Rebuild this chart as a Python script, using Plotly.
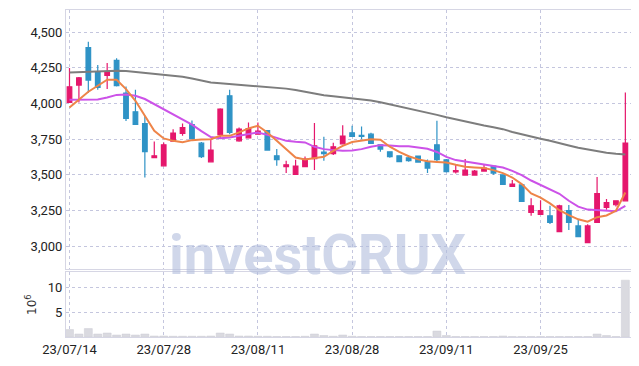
import plotly.graph_objects as go
from plotly.subplots import make_subplots

dates = [
    "2023-07-14", "2023-07-17", "2023-07-18", "2023-07-19", "2023-07-20", "2023-07-21",
    "2023-07-24", "2023-07-25", "2023-07-26", "2023-07-27", "2023-07-28", "2023-07-31",
    "2023-08-01", "2023-08-02", "2023-08-03", "2023-08-04", "2023-08-07", "2023-08-08",
    "2023-08-09", "2023-08-10", "2023-08-11", "2023-08-14", "2023-08-16", "2023-08-17",
    "2023-08-18", "2023-08-21", "2023-08-22", "2023-08-23", "2023-08-24", "2023-08-25",
    "2023-08-28", "2023-08-29", "2023-08-30", "2023-08-31", "2023-09-01", "2023-09-04",
    "2023-09-05", "2023-09-06", "2023-09-07", "2023-09-08", "2023-09-11", "2023-09-12",
    "2023-09-13", "2023-09-14", "2023-09-15", "2023-09-18", "2023-09-19", "2023-09-20",
    "2023-09-21", "2023-09-22", "2023-09-25", "2023-09-26", "2023-09-27", "2023-10-04",
    "2023-10-05", "2023-10-06", "2023-10-10", "2023-10-11", "2023-10-12", "2023-10-13",
]

open_ = [4007, 4129, 4391, 4217, 4196, 4302, 4073, 3942, 3858, 3621,
         3563, 3736, 3790, 3851, 3722, 3591, 3781, 4054, 3738, 3759,
         3785, 3809, 3633, 3558, 3502, 3558, 3614, 3659, 3649, 3717,
         3794, 3776, 3785, 3710, 3661, 3633, 3619, 3631, 3591, 3710,
         3605, 3521, 3498, 3498, 3526, 3561, 3500, 3418, 3430, 3236,
         3222, 3213, 3102, 3250, 3142, 3025, 3166, 3271, 3290, 3318]
high = [4248, 4185, 4433, 4269, 4283, 4316, 4119, 4096, 3914, 3734,
        3727, 3820, 3860, 3881, 3730, 3745, 3966, 4096, 3832, 3867,
        3867, 3813, 3680, 3598, 3605, 3628, 3863, 3766, 3724, 3848,
        3844, 3839, 3794, 3712, 3663, 3636, 3635, 3633, 3607, 3879,
        3610, 3575, 3610, 3533, 3568, 3565, 3502, 3463, 3433, 3336,
        3322, 3283, 3290, 3288, 3189, 3154, 3485, 3330, 3320, 4077]
low = [4005, 4007, 4073, 4096, 4101, 4119, 3877, 3849, 3481, 3618,
       3560, 3731, 3774, 3750, 3617, 3588, 3752, 3785, 3731, 3755,
       3783, 3668, 3563, 3512, 3500, 3556, 3533, 3598, 3638, 3712,
       3767, 3750, 3717, 3661, 3619, 3588, 3591, 3586, 3512, 3593,
       3516, 3509, 3495, 3496, 3524, 3500, 3430, 3416, 3310, 3213,
       3220, 3156, 3100, 3114, 3064, 3022, 3163, 3255, 3278, 3316]
close = [4117, 4180, 4164, 4112, 4222, 4124, 3895, 3853, 3663, 3633,
         3710, 3792, 3830, 3752, 3628, 3673, 3961, 3797, 3820, 3823,
         3806, 3673, 3607, 3570, 3561, 3610, 3703, 3649, 3696, 3771,
         3769, 3769, 3720, 3680, 3628, 3593, 3600, 3589, 3547, 3607,
         3523, 3530, 3533, 3526, 3547, 3512, 3432, 3435, 3313, 3283,
         3250, 3166, 3283, 3166, 3067, 3142, 3369, 3306, 3318, 3722]

ma5 = [3972, 4024, 4082, 4124, 4166, 4166, 4101, 4019, 3914, 3809,
       3755, 3738, 3729, 3743, 3748, 3750, 3773, 3773, 3797, 3825,
       3844, 3797, 3738, 3680, 3621, 3607, 3614, 3626, 3668, 3703,
       3730, 3740, 3750, 3746, 3697, 3660, 3630, 3608, 3595, 3590,
       3586, 3570, 3556, 3551, 3547, 3533, 3512, 3481, 3435, 3370,
       3340, 3300, 3252, 3218, 3188, 3172, 3203, 3215, 3248, 3376]
ma20 = [4026, 4026, 4026, 4028, 4042, 4060, 4063, 4054, 4031, 3996,
        3961, 3926, 3891, 3851, 3806, 3765, 3757, 3762, 3773, 3783,
        3797, 3780, 3757, 3738, 3731, 3727, 3696, 3680, 3673, 3668,
        3670, 3680, 3696, 3708, 3706, 3700, 3700, 3690, 3683, 3660,
        3626, 3603, 3593, 3584, 3575, 3565, 3551, 3528, 3498, 3460,
        3430, 3402, 3367, 3318, 3277, 3256, 3251, 3245, 3244, 3283]
ma60 = [4217, 4220, 4224, 4227, 4229, 4229, 4228, 4222, 4216, 4210,
        4203, 4195, 4187, 4175, 4160, 4147, 4142, 4137, 4133, 4128,
        4122, 4118, 4112, 4104, 4094, 4082, 4068, 4058, 4050, 4043,
        4036, 4029, 4020, 4008, 3994, 3980, 3966, 3950, 3935, 3920,
        3903, 3889, 3870, 3857, 3845, 3834, 3820, 3800, 3786, 3770,
        3753, 3738, 3720, 3706, 3690, 3677, 3664, 3655, 3647, 3643]

volume_m = [1.5, 0.6, 1.7, 0.6, 0.8, 0.4, 0.6, 0.4, 0.6, 0.2,
            0.2, 0.15, 0.15, 0.15, 0.15, 0.2, 0.8, 0.6, 0.2, 0.2,
            0.15, 0.15, 0.1, 0.1, 0.1, 0.15, 0.6, 0.3, 0.15, 0.4,
            0.15, 0.1, 0.1, 0.1, 0.1, 0.1, 0.1, 0.1, 0.1, 1.2,
            0.3, 0.1, 0.1, 0.1, 0.1, 0.1, 0.2, 0.1, 0.1, 0.1,
            0.1, 0.1, 0.1, 0.1, 0.1, 0.1, 0.6, 0.3, 0.1, 11.5]

tick_dates = ["2023-07-14", "2023-07-28", "2023-08-11", "2023-08-28", "2023-09-11", "2023-09-25"]
tick_text = ["23/07/14", "23/07/28", "23/08/11", "23/08/28", "23/09/11", "23/09/25"]
price_ticks = [3000, 3250, 3500, 3750, 4000, 4250, 4500]
volume_ticks = [5, 10]

UP = "#e5176c"
DOWN = "#2f93c6"
FONT = "Roboto, Liberation Sans, sans-serif"
GRID = "rgb(196,198,222)"
FRAME = "rgb(214,214,228)"

fig = make_subplots(rows=2, cols=1, shared_xaxes=True, vertical_spacing=0.01,
                    row_heights=[0.8, 0.2])

fig.add_trace(go.Bar(x=dates, y=volume_m, marker=dict(color="rgb(218,218,224)",
                     line=dict(color="rgb(204,204,212)", width=0.5)),
                     width=0.85, showlegend=False), row=2, col=1)

fig.add_trace(go.Scatter(x=dates, y=ma60, mode="lines",
                         line=dict(color="rgb(125,125,125)", width=2),
                         showlegend=False), row=1, col=1)
fig.add_trace(go.Scatter(x=dates, y=ma20, mode="lines",
                         line=dict(color="rgb(204,82,232)", width=2),
                         showlegend=False), row=1, col=1)
fig.add_trace(go.Scatter(x=dates, y=ma5, mode="lines",
                         line=dict(color="rgb(238,132,72)", width=2),
                         showlegend=False), row=1, col=1)

fig.add_trace(go.Candlestick(x=dates, open=open_, high=high, low=low, close=close,
                             increasing=dict(line=dict(color=UP, width=1.2), fillcolor=UP),
                             decreasing=dict(line=dict(color=DOWN, width=1.2), fillcolor=DOWN),
                             whiskerwidth=0, showlegend=False), row=1, col=1)

fig.add_annotation(text="<b>investCRUX</b>", xref="paper", yref="paper",
                   x=0.446, y=0.252, xanchor="center", yanchor="middle",
                   showarrow=False,
                   font=dict(family="Roboto, sans-serif", size=56,
                             color="rgba(176,188,220,0.6)"))

axis_common = dict(showline=True, linecolor=FRAME, linewidth=1, mirror=True,
                   showgrid=True, gridcolor=GRID, griddash="dot", gridwidth=1,
                   zeroline=False, ticks="", automargin=False,
                   tickfont=dict(family=FONT, size=13, color="#222222"))

fig.update_xaxes(type="category", range=[-0.37, 59.6], tickvals=tick_dates,
                 ticktext=tick_text, rangeslider=dict(visible=False), **axis_common)
fig.update_xaxes(showticklabels=False, row=1, col=1)
fig.update_yaxes(range=[2840, 4655], tickvals=price_ticks, tickformat=",d",
                 row=1, col=1, **axis_common)
fig.update_yaxes(range=[0, 13.1], tickvals=volume_ticks, row=2, col=1,
                 title=dict(text="10<sup>6</sup>", standoff=8,
                            font=dict(family="DejaVu Sans", size=12, color="#333")),
                 **axis_common)

# page body has an 8px default margin, so the figure is sized to the visible area
fig.update_layout(width=631, height=358, margin=dict(l=58, r=8, t=2, b=29),
                  paper_bgcolor="white", plot_bgcolor="white",
                  bargap=0.1, showlegend=False)

fig.write_html("out.html")
